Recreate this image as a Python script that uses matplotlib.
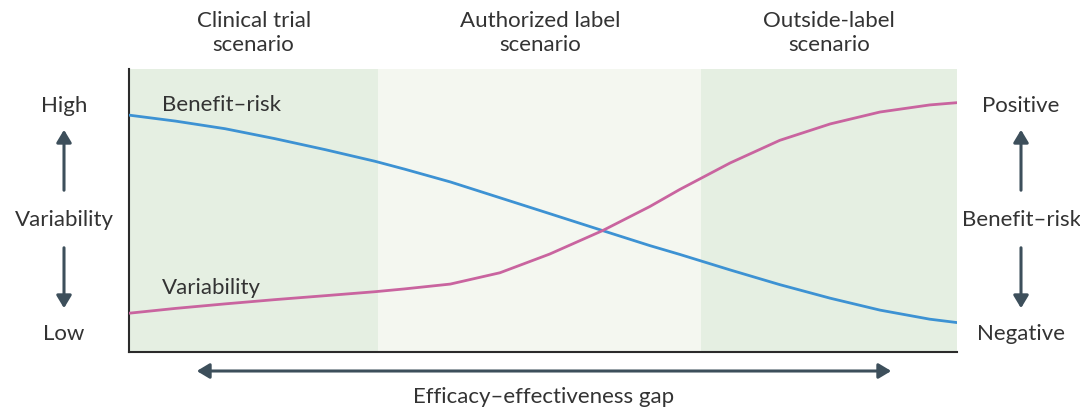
import matplotlib.pyplot as plt
from matplotlib.patches import FancyArrowPatch

plt.rcParams['font.family'] = ['Lato', 'DejaVu Sans']

# Position along the efficacy-effectiveness gap (0-100) and curve levels (0-100)
x_pos = [0, 5.6, 11.6, 17.6, 23.7, 29.7, 33.3, 38.8, 44.8, 50.8, 57.2, 62.9,
         66.5, 72.6, 78.6, 84.7, 90.7, 96.7, 100]
benefit_risk = [83.7, 81.6, 78.9, 75.4, 71.5, 67.4, 64.6, 60.1, 54.5, 48.9, 42.9, 37.6,
                34.5, 29.0, 23.8, 19.0, 14.8, 11.6, 10.4]
variability = [13.7, 15.4, 17.0, 18.5, 19.9, 21.3, 22.3, 24.0, 28.0, 34.6, 42.9, 51.4,
               57.4, 66.8, 74.8, 80.6, 84.8, 87.3, 88.1]

scenarios = ['Clinical trial\nscenario', 'Authorized label\nscenario', 'Outside-label\nscenario']
band_edges = [0, 30.1, 69.1, 100]
band_colors = ['#e5efe2', '#f4f7f0', '#e5efe2']

TXT = '#333333'
ARROW = '#3d4f5b'
FS = 16

fig = plt.figure(figsize=(10.8, 4.13), dpi=100)
ax = fig.add_axes([129 / 1080, 1 - 352 / 413, 828 / 1080, 283 / 413])

for i in range(3):
    ax.axvspan(band_edges[i], band_edges[i + 1], color=band_colors[i], lw=0, zorder=0)
    ax.text((band_edges[i] + band_edges[i + 1]) / 2, 1.128, scenarios[i],
            transform=ax.get_xaxis_transform(), ha='center', va='center',
            fontsize=FS, color=TXT, linespacing=1.25)

ax.plot(x_pos, benefit_risk, color='#3d92d3', lw=2, zorder=3, solid_joinstyle='round')
ax.plot(x_pos, variability, color='#c9649f', lw=2, zorder=3, solid_joinstyle='round')

ax.text(4, 87.3, 'Benefit\u2013risk', fontsize=FS, color=TXT, va='center')
ax.text(4, 22.6, 'Variability', fontsize=FS, color=TXT, va='center')

ax.set_xlim(0, 100)
ax.set_ylim(0, 100)
ax.set_xticks([])
ax.set_yticks([])
for s in ['top', 'right']:
    ax.spines[s].set_visible(False)
for s in ['left', 'bottom']:
    ax.spines[s].set_color('#2b2b2b')
    ax.spines[s].set_linewidth(1.5)


def px(x, y):
    return (x / 1080, 1 - y / 413)


def side_labels(xc, top, mid, bottom):
    fig.text(*px(xc, 106), top, ha='center', va='center', fontsize=FS, color=TXT)
    fig.text(*px(xc, 220), mid, ha='center', va='center', fontsize=FS, color=TXT)
    fig.text(*px(xc, 334), bottom, ha='center', va='center', fontsize=FS, color=TXT)
    for a, b in [((xc, 193), (xc, 127)), ((xc, 245), (xc, 311))]:
        fig.patches.append(FancyArrowPatch(px(*a), px(*b), transform=fig.transFigure,
                                           arrowstyle='-|>,head_length=5,head_width=3',
                                           color=ARROW, lw=2.2, mutation_scale=1.5))


side_labels(64, 'High', 'Variability', 'Low')
side_labels(1021, 'Positive', 'Benefit\u2013risk', 'Negative')

fig.patches.append(FancyArrowPatch(px(194, 371), px(894, 371), transform=fig.transFigure,
                                   arrowstyle='<|-|>,head_length=5,head_width=3',
                                   color=ARROW, lw=2.2, mutation_scale=1.5))
fig.text(*px(544, 397), 'Efficacy\u2013effectiveness gap', ha='center', va='center',
         fontsize=FS, color=TXT)

fig.savefig('out.png', dpi=100)
